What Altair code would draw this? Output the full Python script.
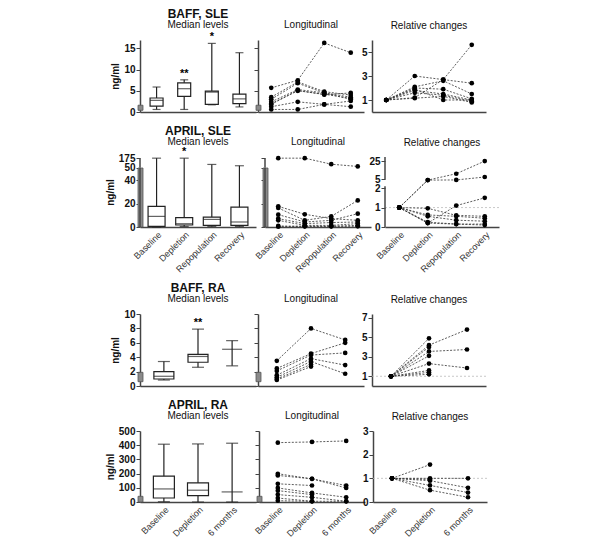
import altair as alt
import pandas as pd

FONT = "Liberation Sans"
DOM = "#444444"

SLE_STAGES = ["Baseline", "Depletion", "Repopulation", "Recovery"]
RA_STAGES = ["Baseline", "Depletion", "6 months"]

# ---------------- BAFF, SLE ----------------
baff_sle_lo = [0.6, 0.6, 1.7, 1.2]
baff_sle_q1 = [1.4, 3.7, 1.8, 2.0]
baff_sle_med = [2.75, 5.5, 4.7, 3.1]
baff_sle_q3 = [3.3, 6.9, 4.95, 4.2]
baff_sle_hi = [5.9, 7.6, 16.2, 14.0]
baff_sle_sig = ["", "**", "*", ""]
baff_sle_lod = [0.4, 1.6]
baff_sle_long = [
    [5.7, 7.5, 16.3, 14.0],
    [3.5, 7.1, 4.8, 4.0],
    [3.0, 6.8, 4.5, 3.5],
    [2.4, 5.3, 4.5, 3.0],
    [1.8, 5.1, 4.1, 4.5],
    [2.0, 5.0, 4.2, 3.2],
    [1.25, 2.4, 1.8, 2.6],
    [0.6, 0.6, 1.8, 1.25],
]
baff_sle_rel = [
    [1, 1.2, 2.7, 5.6],
    [1, 3.0, 2.7, 2.4],
    [1, 2.1, 2.6, 1.5],
    [1, 2.0, 1.9, 1.1],
    [1, 1.8, 1.5, 1.0],
    [1, 1.6, 1.4, 0.9],
    [1, 1.15, 1.3, 0.8],
    [1, 1.9, 1.0, 1.0],
]

# ---------------- APRIL, SLE ----------------
april_sle_lo = [0.0, 0.5, 0.5, 0.5]
april_sle_q1 = [0.6, 1.7, 1.4, 1.4]
april_sle_med = [9.1, 2.8, 6.5, 4.3]
april_sle_q3 = [17.7, 8.0, 8.5, 17.0]
april_sle_hi = [175, 175, 93, 76]
april_sle_sig = ["", "*", "", ""]
april_sle_lod = [0.0, 46.0]
april_sle_long = [
    [175, 175, 96, 67],
    [17.7, 10.9, 7.2, 5.7],
    [16.3, 5.7, 9.1, 22.8],
    [10.6, 4.3, 5.7, 11.4],
    [7.2, 2.9, 3.8, 4.3],
    [5.7, 1.4, 1.4, 2.9],
    [0.9, 0.6, 0.6, 1.4],
    [0.3, 0.6, 0.6, 0.6],
]
april_sle_rel = [
    [1, 4.0, 4.2, 7.5],
    [1, 4.0, 11.2, 25.4],
    [1, 0.2, 1.1, 1.5],
    [1, 0.96, 0.6, 0.55],
    [1, 0.62, 0.55, 0.45],
    [1, 0.55, 0.35, 0.3],
    [1, 0.25, 0.15, 0.15],
    [1, 0.2, 0.15, 0.1],
]

# ---------------- BAFF, RA ----------------
baff_ra_lo = [0.83, 2.6, 2.8]
baff_ra_q1 = [0.97, 3.3, None]
baff_ra_med = [1.35, 4.1, 5.1]
baff_ra_q3 = [2.0, 4.4, None]
baff_ra_hi = [3.4, 7.9, 6.3]
baff_ra_sig = ["", "**", ""]
baff_ra_lod = [0.6, 1.9]
baff_ra_long = [
    [3.5, 8.0, 6.4],
    [2.44, 4.5, 6.0],
    [2.1, 4.3, 4.6],
    [1.5, 3.8, 2.9],
    [1.2, 3.4, 1.7],
    [0.97, 3.0, None],
    [0.83, 2.7, None],
]
baff_ra_rel = [
    [1, 4.2, 5.8],
    [1, 3.55, 3.75],
    [1, 2.3, 1.85],
    [1, 4.9, None],
    [1, 4.0, None],
    [1, 3.1, None],
    [1, 1.6, None],
    [1, 1.4, None],
    [1, 1.2, None],
]

# ---------------- APRIL, RA ----------------
april_ra_lo = [2, 0, 0]
april_ra_q1 = [28, 45, None]
april_ra_med = [92, 83, 71]
april_ra_q3 = [182, 135, None]
april_ra_hi = [407, 409, 414]
april_ra_sig = ["", "", ""]
april_ra_lod = [0, 40]
april_ra_long = [
    [418, 423, 430],
    [199, 163, 116],
    [187, 163, 99],
    [128, 116, None],
    [99, 64, 33],
    [80, 52, None],
    [52, 33, 5],
    [28, 5, 5],
    [9, 5, None],
]
april_ra_rel = [
    [1, 1.58, None],
    [1, 1.0, 1.0],
    [1, 0.9, 0.6],
    [1, 0.7, 0.4],
    [1, 0.5, 0.2],
    [1, 0.95, None],
]

BOX_W, LONG_W, REL_W = 116, 106, 114


def ident(v):
    return v


# broken axis for APRIL SLE levels: 0..45 linear, then 50..175 compressed
def brk_abs(v):
    return v if v <= 45 else 50.8 + (v - 50) * 8.2 / 125


BRK_ABS_EXPR = "datum.value <= 45 ? datum.label : format(50 + (datum.value - 50.8) * 125 / 8.2, 'd')"


# broken axis for APRIL SLE relative: 0..2 linear, then 5..25 compressed
def brk_rel(v):
    return v if v <= 2.1 else 2.457 + (v - 5) * 0.913 / 20


BRK_REL_EXPR = "datum.value <= 2.1 ? datum.label : format(5 + (datum.value - 2.457) * 20 / 0.913, 'd')"


def xaxis(show):
    if show:
        return alt.Axis(labelAngle=-45, ticks=False, labelPadding=3, labelFontSize=9,
                        labelColor="#333", domainColor=DOM, domainWidth=1.5)
    return alt.Axis(labels=False, ticks=False, domainColor=DOM, domainWidth=1.5)


def yaxis(vals, labels=True, expr=None, domain=True):
    kw = dict(values=vals, tickSize=4, tickColor=DOM, domainColor=DOM, domainWidth=1.5,
              grid=False, labelFontSize=10, labelFontWeight="bold", labelPadding=1,
              labelOverlap=False, labelFlush=False, labelBound=False,
              domain=domain, labelColor="#111", titleFontSize=10, titleFontWeight="bold",
              titlePadding=3, titleColor="#111")
    if not labels:
        kw["labels"] = False
    if expr:
        kw["labelExpr"] = expr
    return alt.Axis(**kw)


def make_x(cats, pad, show):
    return alt.X("stage:N", scale=alt.Scale(type="point", domain=cats, padding=pad),
                 sort=cats, axis=xaxis(show), title=None)


def make_y(field, ydom, yax, title):
    if title:
        return alt.Y(field, scale=alt.Scale(domain=ydom), axis=yax, title=title)
    return alt.Y(field, scale=alt.Scale(domain=ydom), axis=yax, title=None)


def break_rules(segs, f, Y):
    df = pd.DataFrame({"a": [f(s[0]) for s in segs], "b": [f(s[1]) for s in segs]})
    return alt.Chart(df).mark_rule(color=DOM, strokeWidth=1.5).encode(
        x=alt.value(0), y=Y("a:Q"), y2="b:Q",
    )


def lod_rect(lod, f, Y):
    df = pd.DataFrame({"a": [f(lod[0])], "b": [f(lod[1])]})
    return alt.Chart(df).mark_rect(fill="#8a8a8a", stroke="#555", strokeWidth=0.8).encode(
        x=alt.value(-2), x2=alt.value(3), y=Y("a:Q"), y2="b:Q",
    )


def title_text(text, width, dy, size, bold):
    return alt.Chart(pd.DataFrame({"t": [text]})).mark_text(
        fontSize=size, fontWeight="bold" if bold else "normal", font=FONT,
        color="#111", baseline="middle", align="center").encode(
        x=alt.value(width / 2), y=alt.value(dy), text="t:N")


def box_panel(cats, lo, q1, med, q3, hi, sig, lod, ydom, yvals, title, show_x,
              box_w, cap_w, pad, height, f=ident, expr=None, segs=None):
    df = pd.DataFrame({
        "stage": cats,
        "lo": [f(v) for v in lo],
        "q1": [None if v is None else f(v) for v in q1],
        "med": [f(v) for v in med],
        "q3": [None if v is None else f(v) for v in q3],
        "hi": [f(v) for v in hi],
        "sig": sig,
    })
    x = make_x(cats, pad, show_x)
    yax = yaxis(yvals, expr=expr, domain=segs is None)

    def Y(field):
        return make_y(field, ydom, yax, "ng/ml")

    base = alt.Chart(df)
    whisk = base.mark_rule(color="#222", strokeWidth=1.2).encode(x=x, y=Y("lo:Q"), y2="hi:Q")
    box = base.transform_filter("isValid(datum.q1)").mark_bar(
        fill="white", stroke="#222", strokeWidth=1.2, size=box_w).encode(x=x, y=Y("q1:Q"), y2="q3:Q")
    medt = base.mark_tick(color="#222", size=box_w, thickness=1.2).encode(x=x, y=Y("med:Q"))
    caplo = base.mark_tick(color="#222", size=cap_w, thickness=1.2).encode(x=x, y=Y("lo:Q"))
    caphi = base.mark_tick(color="#222", size=cap_w, thickness=1.2).encode(x=x, y=Y("hi:Q"))
    sigt = base.mark_text(dy=-6, fontSize=11, fontWeight="bold", font=FONT).encode(
        x=x, y=Y("hi:Q"), text="sig:N")
    layers = [whisk, box, medt, caplo, caphi, sigt, lod_rect(lod, f, Y),
              title_text(title, BOX_W, -26, 12, True),
              title_text("Median levels", BOX_W, -15, 10, False)]
    if segs is not None:
        layers.append(break_rules(segs, f, Y))
    return alt.layer(*layers).properties(width=BOX_W, height=height)


def series_df(cats, series, f):
    rows = []
    for i, s in enumerate(series):
        for c, v in zip(cats, s):
            if v is not None:
                rows.append({"sid": i, "stage": c, "val": f(v)})
    return pd.DataFrame(rows)


def long_panel(cats, series, lod, ydom, yvals, show_x, pad, height, f=ident, segs=None):
    df = series_df(cats, series, f)
    x = make_x(cats, pad, show_x)
    yax = yaxis(yvals, labels=False, domain=segs is None)

    def Y(field):
        return make_y(field, ydom, yax, None)

    lines = alt.Chart(df).mark_line(color="#333", strokeWidth=0.8, strokeDash=[2, 1.5]).encode(
        x=x, y=Y("val:Q"), detail="sid:N")
    pts = alt.Chart(df).mark_circle(size=22, color="black", opacity=1).encode(x=x, y=Y("val:Q"))
    layers = [lines, pts, lod_rect(lod, f, Y),
              title_text("Longitudinal", LONG_W, -15, 10, False)]
    if segs is not None:
        layers.append(break_rules(segs, f, Y))
    return alt.layer(*layers).properties(width=LONG_W, height=height)


def rel_panel(cats, series, ydom, yvals, show_x, pad, height, ref=True, f=ident,
              expr=None, segs=None):
    df = series_df(cats, series, f)
    x = make_x(cats, pad, show_x)
    yax = yaxis(yvals, expr=expr, domain=segs is None)

    def Y(field):
        return make_y(field, ydom, yax, None)

    layers = []
    if ref:
        layers.append(alt.Chart(pd.DataFrame({"val": [f(1)]})).mark_rule(
            color="#bbbbbb", strokeWidth=0.8, strokeDash=[2, 2]).encode(y=Y("val:Q")))
    layers.append(alt.Chart(df).mark_line(color="#333", strokeWidth=0.8, strokeDash=[2, 1.5]).encode(
        x=x, y=Y("val:Q"), detail="sid:N"))
    layers.append(alt.Chart(df).mark_circle(size=22, color="black", opacity=1).encode(
        x=x, y=Y("val:Q")))
    layers.append(title_text("Relative changes", REL_W, -14, 10, False))
    if segs is not None:
        layers.append(break_rules(segs, f, Y))
    return alt.layer(*layers).properties(width=REL_W, height=height)


HSP = -3

row1 = alt.hconcat(
    box_panel(SLE_STAGES, baff_sle_lo, baff_sle_q1, baff_sle_med, baff_sle_q3, baff_sle_hi,
              baff_sle_sig, baff_sle_lod, [0, 17], [0, 5, 10, 15], "BAFF, SLE", False,
              13, 8, 0.6, 72),
    long_panel(SLE_STAGES, baff_sle_long, baff_sle_lod, [0, 17], [0, 5, 10, 15], False, 0.5, 72),
    rel_panel(SLE_STAGES, baff_sle_rel, [0, 6], [1, 3, 5], False, 0.5, 72, ref=False),
    spacing=HSP,
)

abs_ticks = [brk_abs(v) for v in [0, 20, 40, 50, 175]]
rel_ticks = [brk_rel(v) for v in [0, 1, 2, 5, 25]]
row2 = alt.hconcat(
    box_panel(SLE_STAGES, april_sle_lo, april_sle_q1, april_sle_med, april_sle_q3, april_sle_hi,
              april_sle_sig, april_sle_lod, [0, 60], abs_ticks, "APRIL, SLE", True,
              17, 9, 0.6, 70, f=brk_abs, expr=BRK_ABS_EXPR, segs=[[0, 45.5], [49, 175]]),
    long_panel(SLE_STAGES, april_sle_long, april_sle_lod, [0, 60], abs_ticks, True, 0.5, 70,
               f=brk_abs, segs=[[0, 45.5], [49, 175]]),
    rel_panel(SLE_STAGES, april_sle_rel, [0, 3.6], rel_ticks, True, 0.5, 70, f=brk_rel,
              expr=BRK_REL_EXPR, segs=[[0, 2.1], [4.6, 30]]),
    spacing=HSP,
)

row3 = alt.hconcat(
    box_panel(RA_STAGES, baff_ra_lo, baff_ra_q1, baff_ra_med, baff_ra_q3, baff_ra_hi,
              baff_ra_sig, baff_ra_lod, [0, 10], [0, 2, 4, 6, 8, 10], "BAFF, RA", False,
              20, 12, 0.7, 72),
    long_panel(RA_STAGES, baff_ra_long, baff_ra_lod, [0, 10], [0, 2, 4, 6, 8, 10], False, 0.55, 72),
    rel_panel(RA_STAGES, baff_ra_rel, [0, 7.4], [1, 3, 5, 7], False, 0.5, 72),
    spacing=HSP,
)

row4 = alt.hconcat(
    box_panel(RA_STAGES, april_ra_lo, april_ra_q1, april_ra_med, april_ra_q3, april_ra_hi,
              april_ra_sig, april_ra_lod, [0, 500], [0, 100, 200, 300, 400, 500], "APRIL, RA", True,
              21, 12, 0.7, 71),
    long_panel(RA_STAGES, april_ra_long, april_ra_lod, [0, 500], [0, 100, 200, 300, 400, 500],
               True, 0.55, 71),
    rel_panel(RA_STAGES, april_ra_rel, [0, 3], [0, 1, 2, 3], True, 0.5, 71),
    spacing=HSP,
)

chart = alt.vconcat(row1, row2, row3, row4, spacing=8).properties(
    padding={"left": 97, "top": 0, "right": 5, "bottom": 5}
).configure(font=FONT).configure_view(stroke=None).configure_axis(
    labelFont=FONT, titleFont=FONT
)

chart.save("out.html", embed_options={"renderer": "svg", "actions": False})
